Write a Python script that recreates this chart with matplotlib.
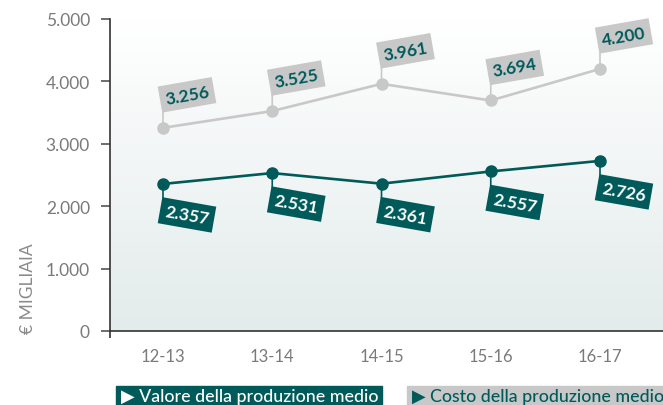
import matplotlib
matplotlib.use('Agg')
import matplotlib.pyplot as plt
import numpy as np
from matplotlib.patches import Rectangle
from matplotlib.colors import LinearSegmentedColormap

categories = ['12-13', '13-14', '14-15', '15-16', '16-17']
valore = [2357, 2531, 2361, 2557, 2726]
costo = [3256, 3525, 3961, 3694, 4200]
yticks = [0, 1000, 2000, 3000, 4000, 5000]
ytick_labels = ['0', '1.000', '2.000', '3.000', '4.000', '5.000']
series_names = ['Valore della produzione medio', 'Costo della produzione medio']
ylabel = '€ MIGLIAIA'

TEAL = '#005a5a'
GRAY = '#c8c8c8'
TXT = '#7a7a7a'
FONT = ['Lato', 'DejaVu Sans']
plt.rcParams['font.family'] = FONT

W, H = 663, 406
fig = plt.figure(figsize=(W / 100, H / 100), dpi=100)
ax = fig.add_axes([110 / W, (H - 332) / H, (W - 110) / W, (332 - 20) / H])

x = np.arange(len(categories))
step = (600 - 163) / 4
xmin = -(163 - 110) / step
xmax = 4 + (663 - 600) / step
ax.set_xlim(xmin, xmax)
ax.set_ylim(0, 5000)

# gradient background
cmap = LinearSegmentedColormap.from_list('bg', ['#e3ebeb', '#ffffff'])
grad = np.linspace(0, 1, 256).reshape(-1, 1)
ax.imshow(grad, extent=[xmin, xmax, 0, 5000], origin='lower', aspect='auto',
          cmap=cmap, zorder=0)

ax.plot(x, costo, color=GRAY, lw=1.9, marker='o', ms=8, zorder=3)
ax.plot(x, valore, color=TEAL, lw=1.9, marker='o', ms=8, zorder=3)

def fmt(v):
    return f"{v:,}".replace(',', '.')

for xi, v in zip(x, costo):
    ax.annotate('', xy=(xi, v), xytext=(0, 16), textcoords='offset pixels',
                arrowprops=dict(arrowstyle='-', color=GRAY, lw=1.2,
                                shrinkA=0, shrinkB=0), zorder=2)
    ax.annotate(fmt(v), xy=(xi, v), xytext=(24, 33), textcoords='offset pixels',
                ha='center', va='center', rotation=10, fontsize=12.5,
                fontweight='bold', color=TEAL, zorder=5,
                bbox=dict(boxstyle='square,pad=0.3', fc=GRAY, ec='none'))

for xi, v in zip(x, valore):
    ax.annotate('', xy=(xi, v), xytext=(0, -14), textcoords='offset pixels',
                arrowprops=dict(arrowstyle='-', color=TEAL, lw=1.2,
                                shrinkA=0, shrinkB=0), zorder=2)
    ax.annotate(fmt(v), xy=(xi, v), xytext=(24, -31), textcoords='offset pixels',
                ha='center', va='center', rotation=-10, fontsize=12.5,
                fontweight='bold', color='white', zorder=5,
                bbox=dict(boxstyle='square,pad=0.3', fc=TEAL, ec='none'))

for s in ['top', 'right']:
    ax.spines[s].set_visible(False)
ax.spines['left'].set_color('#333333')
ax.spines['bottom'].set_color('#333333')
ax.spines['left'].set_linewidth(1.2)
ax.spines['bottom'].set_linewidth(1.2)

ax.set_yticks(yticks)
ax.set_yticklabels(ytick_labels)
ax.tick_params(axis='y', length=6.5, width=1.2, color='#555555', pad=8,
               labelsize=12.5, labelcolor=TXT)
ax.set_xticks(x)
ax.set_xticklabels(categories)
ax.tick_params(axis='x', which='major', length=0, pad=12, labelsize=12,
               labelcolor=TXT)
ax.set_xticks([xmin], minor=True)
ax.tick_params(axis='x', which='minor', length=5, width=1.2, color='#333333')

fig.text(28 / W, (H - 289) / H, ylabel, rotation=90, ha='center', va='center',
         fontsize=12.5, color='#8a8a8a')

# legend boxes
fig.patches.append(Rectangle((116 / W, 0), (382 - 116) / W, (406 - 387) / H,
                             transform=fig.transFigure, color=TEAL, zorder=1))
fig.text(121 / W, (H - 397) / H, '▶ ' + series_names[0], ha='left', va='center',
         fontsize=12.8, color='white', fontweight='medium')
fig.patches.append(Rectangle((407 / W, 0), (663 - 407) / W, (406 - 387) / H,
                             transform=fig.transFigure, color=GRAY, zorder=1))
fig.text(412 / W, (H - 397) / H, '▶ ' + series_names[1], ha='left', va='center',
         fontsize=12.8, color=TEAL, fontweight='medium')

fig.savefig('out.png', dpi=100)
